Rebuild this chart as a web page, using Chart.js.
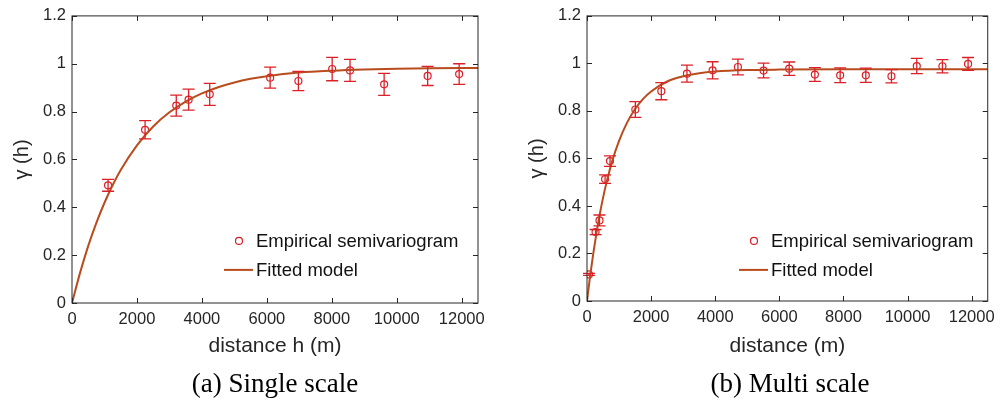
<!DOCTYPE html>
<html>
<head>
<meta charset="utf-8">
<script src="https://cdn.jsdelivr.net/npm/chart.js@4.4.1/dist/chart.umd.min.js"></script>
<style>
  html, body { margin: 0; padding: 0; background: #fff; }
  #wrap { position: relative; width: 1002px; height: 400px; }
  .panel { position: absolute; top: 0; width: 501px; height: 400px; }
  .caption {
    position: absolute; top: 370px; transform: translateX(-50%);
    font-family: "Liberation Serif", "Times New Roman", serif;
    font-size: 27px; line-height: 27px; color: #000; white-space: nowrap;
  }
</style>
</head>
<body>
<div id="wrap">
  <div class="panel" style="left:0"><canvas id="singleChart" width="501" height="400"></canvas></div>
  <div class="panel" style="left:501px"><canvas id="multiChart" width="501" height="400"></canvas></div>
  <div class="caption" style="left:275px">(a) Single scale</div>
  <div class="caption" style="left:790px">(b) Multi scale</div>
</div>
<script>
// --- (a) single scale: empirical semivariogram + error half-widths ---
const singleDist  = [1110, 2250, 3210, 3590, 4240, 6100, 6970, 8010, 8560, 9610, 10950, 11920];
const singleGamma = [0.492, 0.724, 0.825, 0.850, 0.872, 0.942, 0.928, 0.978, 0.972, 0.914, 0.949, 0.957];
const singleErr   = [0.025, 0.038, 0.044, 0.044, 0.046, 0.044, 0.040, 0.049, 0.046, 0.046, 0.040, 0.043];
// fitted model
const singleFitDist  = [0, 250, 500, 750, 1000, 1250, 1500, 2000, 2500, 3000, 3500, 4000, 4500, 5000, 5500, 6000, 7000, 8000, 9000, 10000, 11000, 12500];
const singleFitGamma = [0, 0.127, 0.239, 0.335, 0.419, 0.492, 0.556, 0.659, 0.738, 0.797, 0.842, 0.876, 0.902, 0.922, 0.937, 0.948, 0.963, 0.971, 0.976, 0.979, 0.981, 0.982];

// --- (b) multi scale ---
const multiDist  = [62, 267, 390, 564, 718, 1508, 2318, 3118, 3918, 4708, 5508, 6308, 7108, 7897, 8697, 9497, 10287, 11087, 11887];
const multiGamma = [0.112, 0.290, 0.339, 0.513, 0.589, 0.806, 0.883, 0.957, 0.971, 0.985, 0.970, 0.978, 0.953, 0.950, 0.950, 0.946, 0.989, 0.988, 0.998];
const multiErr   = [0.004, 0.011, 0.023, 0.018, 0.022, 0.033, 0.036, 0.036, 0.036, 0.033, 0.031, 0.028, 0.029, 0.031, 0.030, 0.028, 0.032, 0.028, 0.027];
const multiFitDist  = [0, 100, 200, 300, 400, 500, 600, 800, 1000, 1250, 1500, 1750, 2000, 2500, 3000, 3500, 4000, 5000, 6000, 8000, 10000, 12500];
const multiFitGamma = [0, 0.108, 0.204, 0.290, 0.366, 0.434, 0.494, 0.595, 0.674, 0.751, 0.808, 0.851, 0.882, 0.924, 0.946, 0.959, 0.966, 0.972, 0.974, 0.975, 0.975, 0.975];

const xTicks = [0, 2000, 4000, 6000, 8000, 10000, 12000];
const yTicks = [0, 0.2, 0.4, 0.6, 0.8, 1, 1.2];

const RED = '#DC2028';
const LINE = '#B84C1E';
const AXIS = '#262626';
const SANS = '"Liberation Sans", Arial, Helvetica, sans-serif';

// error bars, drawn through the scales
const errorBars = {
    id: 'errorBars',
    afterDatasetsDraw(chart, args, opts) {
        const {ctx, scales: {x, y}} = chart;
        const pts = chart.data.datasets[0].data;
        ctx.save();
        ctx.strokeStyle = RED;
        ctx.lineWidth = 1.3;
        pts.forEach((p, i) => {
            const e = opts.err[i];
            const px = x.getPixelForValue(p.x);
            const top = y.getPixelForValue(p.y + e);
            const bot = y.getPixelForValue(p.y - e);
            ctx.beginPath();
            ctx.moveTo(px, top); ctx.lineTo(px, bot);
            ctx.moveTo(px - 6, top); ctx.lineTo(px + 6, top);
            ctx.moveTo(px - 6, bot); ctx.lineTo(px + 6, bot);
            ctx.stroke();
        });
        ctx.restore();
    }
};

// matlab style box with inward ticks
const boxAxes = {
    id: 'boxAxes',
    afterDraw(chart) {
        const {ctx, chartArea: a, scales: {x, y}} = chart;
        ctx.save();
        ctx.strokeStyle = AXIS;
        ctx.lineWidth = 1;
        ctx.strokeRect(a.left, a.top, a.right - a.left, a.bottom - a.top);
        ctx.beginPath();
        xTicks.forEach(v => {
            const px = Math.round(x.getPixelForValue(v)) + 0.5;
            ctx.moveTo(px, a.bottom); ctx.lineTo(px, a.bottom - 5);
            ctx.moveTo(px, a.top); ctx.lineTo(px, a.top + 5);
        });
        yTicks.forEach(v => {
            const py = Math.round(y.getPixelForValue(v)) + 0.5;
            ctx.moveTo(a.left, py); ctx.lineTo(a.left + 5, py);
            ctx.moveTo(a.right, py); ctx.lineTo(a.right - 5, py);
        });
        ctx.stroke();
        ctx.restore();
    }
};

// legend inside the axes, lower right
const innerLegend = {
    id: 'innerLegend',
    afterDraw(chart, args, opts) {
        const {ctx, chartArea: a} = chart;
        const ds = chart.data.datasets;
        const mx = a.left + opts.dx;
        const r1 = a.top + opts.dy1;
        const r2 = a.top + opts.dy2;
        ctx.save();
        ctx.strokeStyle = RED;
        ctx.lineWidth = 1.2;
        ctx.beginPath();
        ctx.arc(mx, r1, 3.5, 0, Math.PI * 2);
        ctx.stroke();
        ctx.strokeStyle = LINE;
        ctx.lineWidth = 2;
        ctx.beginPath();
        ctx.moveTo(mx - 15, r2); ctx.lineTo(mx + 14, r2);
        ctx.stroke();
        ctx.fillStyle = '#111';
        ctx.font = '18.5px ' + SANS;
        ctx.textBaseline = 'middle';
        ctx.fillText(ds[0].label, mx + 17, r1 + 1);
        ctx.fillText(ds[1].label, mx + 17, r2 + 1);
        ctx.restore();
    }
};

function makeChart(id, dist, gamma, err, fitDist, fitGamma, xTitle, lay) {
    const ctx = document.getElementById(id).getContext('2d');
    return new Chart(ctx, {
        type: 'scatter',
        data: {
            datasets: [
                {
                    label: 'Empirical semivariogram',
                    data: dist.map((d, i) => ({x: d, y: gamma[i]})),
                    borderColor: RED,
                    backgroundColor: 'rgba(0,0,0,0)',
                    pointRadius: 3.5,
                    pointBorderWidth: 1.2,
                    showLine: false,
                    order: 2
                },
                {
                    type: 'line',
                    label: 'Fitted model',
                    data: fitDist.map((d, i) => ({x: d, y: fitGamma[i]})),
                    borderColor: LINE,
                    borderWidth: 2,
                    pointRadius: 0,
                    fill: false,
                    cubicInterpolationMode: 'monotone',
                    order: 1
                }
            ]
        },
        options: {
            responsive: false,
            animation: false,
            events: [],
            layout: { padding: { left: 0, top: 14, right: lay.right, bottom: 0 } },
            plugins: {
                legend: { display: false },
                tooltip: { enabled: false },
                errorBars: { err: err },
                innerLegend: { dx: 167, dy1: 225, dy2: 254 }
            },
            scales: {
                x: {
                    type: 'linear',
                    min: 0, max: 12500,
                    afterFit: s => { s.height = lay.xh; },
                    afterBuildTicks: s => { s.ticks = xTicks.map(v => ({value: v})); },
                    grid: { display: false, drawTicks: false },
                    border: { display: false },
                    ticks: {
                        color: AXIS, padding: 7,
                        font: { family: SANS, size: 16.5 },
                        callback: v => String(v)
                    },
                    title: {
                        display: true, text: xTitle, color: AXIS,
                        font: { family: SANS, size: 21 },
                        padding: { top: 0, bottom: 41 }
                    }
                },
                y: {
                    type: 'linear',
                    min: 0, max: 1.2,
                    afterFit: s => { s.width = lay.yw; },
                    afterBuildTicks: s => { s.ticks = yTicks.map(v => ({value: v})); },
                    grid: { display: false, drawTicks: false },
                    border: { display: false },
                    ticks: {
                        color: AXIS, padding: 6,
                        font: { family: SANS, size: 16.5 },
                        callback: v => String(+v.toFixed(1))
                    },
                    title: {
                        display: true, text: 'γ (h)', color: AXIS,
                        font: { family: SANS, size: 20 },
                        padding: { top: lay.ytp, bottom: 0 }
                    }
                }
            }
        },
        plugins: [errorBars, boxAxes, innerLegend]
    });
}

makeChart('singleChart', singleDist, singleGamma, singleErr, singleFitDist, singleFitGamma,
    'distance h (m)', { right: 23, xh: 97, yw: 72, ytp: 10 });
makeChart('multiChart', multiDist, multiGamma, multiErr, multiFitDist, multiFitGamma,
    'distance (m)', { right: 9, xh: 99, yw: 86, ytp: 24 });
</script>
</body>
</html>
